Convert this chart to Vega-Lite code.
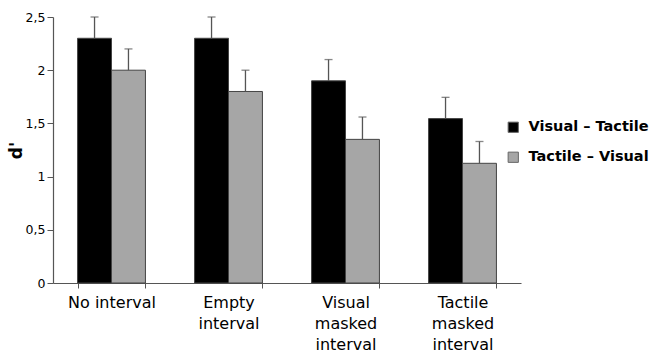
{
  "$schema": "https://vega.github.io/schema/vega-lite/v6.json",
  "autosize": {"type": "none"},
  "width": 468,
  "height": 266,
  "padding": {"left": 53, "top": 17, "right": 138, "bottom": 70},
  "background": "white",
  "config": {
    "font": "DejaVu Sans",
    "view": {"stroke": null},
    "axis": {"grid": false, "domainColor": "#555555", "tickColor": "#555555", "labelColor": "#000000", "titleColor": "#000000"}
  },
  "data": {
    "values": [
      {"cond": "No interval", "dir": "Visual – Tactile", "d": 2.3, "upper": 2.5},
      {"cond": "No interval", "dir": "Tactile – Visual", "d": 2.0, "upper": 2.2},
      {"cond": "Empty|interval", "dir": "Visual – Tactile", "d": 2.3, "upper": 2.5},
      {"cond": "Empty|interval", "dir": "Tactile – Visual", "d": 1.8, "upper": 2.0},
      {"cond": "Visual|masked|interval", "dir": "Visual – Tactile", "d": 1.9, "upper": 2.1},
      {"cond": "Visual|masked|interval", "dir": "Tactile – Visual", "d": 1.35, "upper": 1.56},
      {"cond": "Tactile|masked|interval", "dir": "Visual – Tactile", "d": 1.545, "upper": 1.745},
      {"cond": "Tactile|masked|interval", "dir": "Tactile – Visual", "d": 1.125, "upper": 1.33}
    ]
  },
  "encoding": {
    "x": {
      "field": "cond", "type": "nominal", "sort": null,
      "scale": {"paddingInner": 0.42, "paddingOuter": 0.21},
      "axis": {
        "title": null, "labelAngle": 0, "tickBand": "extent", "tickSize": 5,
        "labelFontSize": 16, "labelLineHeight": 21, "labelPadding": 6,
        "labelExpr": "split(datum.label, '|')", "domainWidth": 1.2
      }
    },
    "xOffset": {"field": "dir", "type": "nominal", "sort": ["Visual – Tactile", "Tactile – Visual"], "scale": {"paddingInner": 0, "paddingOuter": 0}}
  },
  "layer": [
    {
      "mark": {"type": "bar", "stroke": "#444444", "strokeWidth": 1},
      "encoding": {
        "y": {
          "field": "d", "type": "quantitative",
          "scale": {"domain": [0, 2.5], "nice": false},
          "axis": {
            "title": "d'", "titleFontSize": 17, "titleFontWeight": "bold", "titlePadding": 0,
            "values": [0, 0.5, 1, 1.5, 2, 2.5], "format": ".1~f", "labelFontSize": 12.5, "tickSize": 6,
            "labelExpr": "replace(datum.label, '.', ',')", "domainWidth": 1.2
          }
        },
        "fill": {
          "field": "dir", "type": "nominal", "sort": ["Visual – Tactile", "Tactile – Visual"],
          "scale": {"range": ["#000000", "#a6a6a6"]},
          "legend": {
            "title": null, "orient": "none", "legendX": 453, "legendY": 103,
            "symbolType": "square", "symbolSize": 105, "symbolStrokeWidth": 1,
            "symbolStrokeColor": "#666666", "symbolOpacity": 1,
            "labelFontSize": 14.5, "labelFontWeight": "bold", "labelOffset": 8, "rowPadding": 14,
            "labelColor": "#000000"
          }
        }
      }
    },
    {
      "mark": {"type": "rule", "color": "#555555", "strokeWidth": 1.3},
      "encoding": {
        "y": {"field": "d", "type": "quantitative"},
        "y2": {"field": "upper"}
      }
    },
    {
      "mark": {"type": "tick", "color": "#555555", "thickness": 1.3, "size": 8},
      "encoding": {
        "y": {"field": "upper", "type": "quantitative"}
      }
    }
  ]
}
